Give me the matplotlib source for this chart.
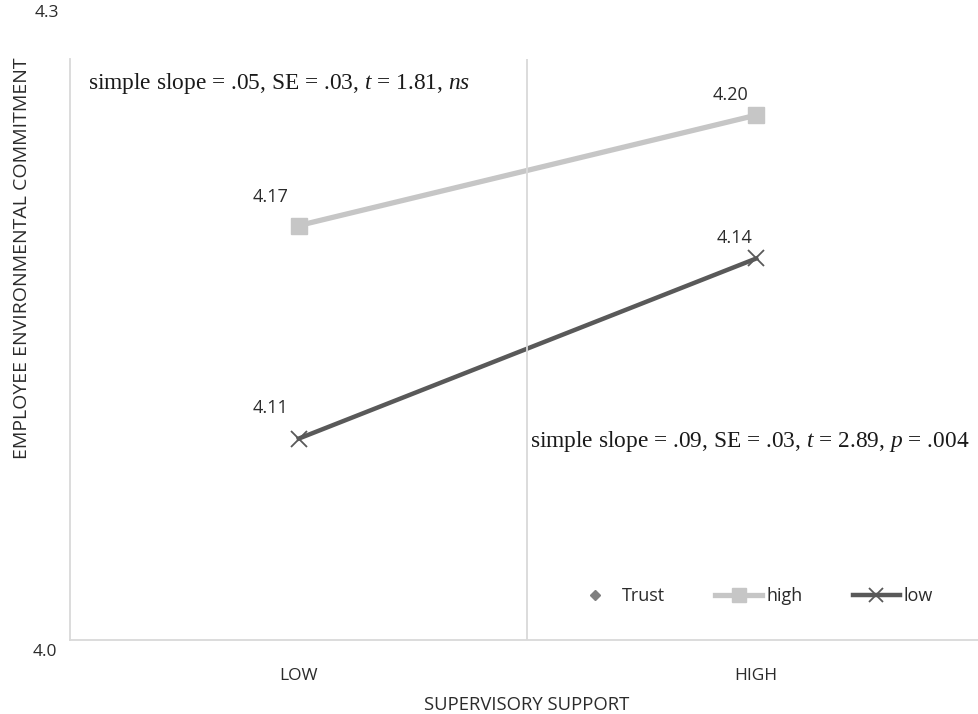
import matplotlib.pyplot as plt

categories = ['LOW', 'HIGH']
high_pos = [4.214, 4.271]   # plotted heights
low_pos = [4.104, 4.197]
high_labels = ['4.17', '4.20']
low_labels = ['4.11', '4.14']
y_tick_labels = ['4.3', '4.0']

note_high = 'simple slope = .05, SE = .03, $t$ = 1.81, $ns$'
note_low = 'simple slope = .09, SE = .03, $t$ = 2.89, $p$ = .004'

plt.rcParams['font.family'] = 'Open Sans'
plt.rcParams['mathtext.fontset'] = 'custom'
plt.rcParams['mathtext.rm'] = 'Liberation Serif'
plt.rcParams['mathtext.it'] = 'Liberation Serif:italic'

txt = '#2b2b2b'
light = '#c6c6c6'
dark = '#595959'

fig = plt.figure(figsize=(9.79, 7.14), dpi=100)
ax = fig.add_axes([70/979, 1 - 640/714, 1 - 70/979, (640 - 59)/714])

x = list(range(len(categories)))
ax.plot(x, high_pos, color=light, lw=3.8, marker='s', ms=12, label='high')
ax.plot(x, low_pos, color=dark, lw=3.2, marker='x', ms=12, mew=1.3, label='low')

offsets = [[(-28, 29), (-26, 20)], [(-28, 31), (-22, 20)]]
for ys, labs, offs in [(high_pos, high_labels, offsets[0]), (low_pos, low_labels, offsets[1])]:
    for xi, yi, lab, off in zip(x, ys, labs, offs):
        ax.annotate(lab, (xi, yi), xytext=off, textcoords='offset pixels',
                    ha='center', va='center', fontsize=13, color=txt)

ax.set_xlim(-0.5, 1.5 - 6/458)
ax.set_ylim(4.0, 4.3)
ax.axvline(0.5, color='#d9d9d9', lw=1.3)
for s in ['top', 'right']:
    ax.spines[s].set_visible(False)
for s in ['left', 'bottom']:
    ax.spines[s].set_color('#d9d9d9')
    ax.spines[s].set_linewidth(1.3)
ax.set_yticks([])
ax.set_xticks(x)
ax.set_xticklabels(categories, fontsize=12.5, color=txt)
ax.tick_params(axis='x', length=0, pad=20)

fig.text(47/979, 1 - 13/714, y_tick_labels[0], ha='center', va='center', fontsize=12.5, color=txt)
fig.text(45/979, 1 - 652/714, y_tick_labels[1], ha='center', va='center', fontsize=12.5, color=txt)
fig.text(22/979, 1 - 258/714, 'EMPLOYEE ENVIRONMENTAL COMMITMENT', rotation=90,
         ha='center', va='center', fontsize=14, color=txt)
fig.text(527/979, 1 - 705/714, 'SUPERVISORY SUPPORT', ha='center', va='center',
         fontsize=13.3, color=txt)

fig.text(88/979, 1 - 84/714, note_high, family='Liberation Serif', fontsize=16.8,
         ha='left', va='center', color='#1a1a1a')
fig.text(530/979, 1 - 442/714, note_low, family='Liberation Serif', fontsize=16.8,
         ha='left', va='center', color='#1a1a1a')

trust = ax.plot([], [], ls='none', marker='D', ms=7, color='#7f7f7f', label='Trust')[0]
handles = [trust] + ax.get_lines()[:2]
ax.legend(handles=handles, labels=['Trust', 'high', 'low'], ncol=3, frameon=False,
          loc='center', bbox_to_anchor=(752/979, 1 - 596/714), bbox_transform=fig.transFigure,
          fontsize=13, labelcolor=txt, handlelength=2.6, columnspacing=2.8,
          handletextpad=0.2, markerscale=0.8)

fig.savefig('out.png', dpi=100)
